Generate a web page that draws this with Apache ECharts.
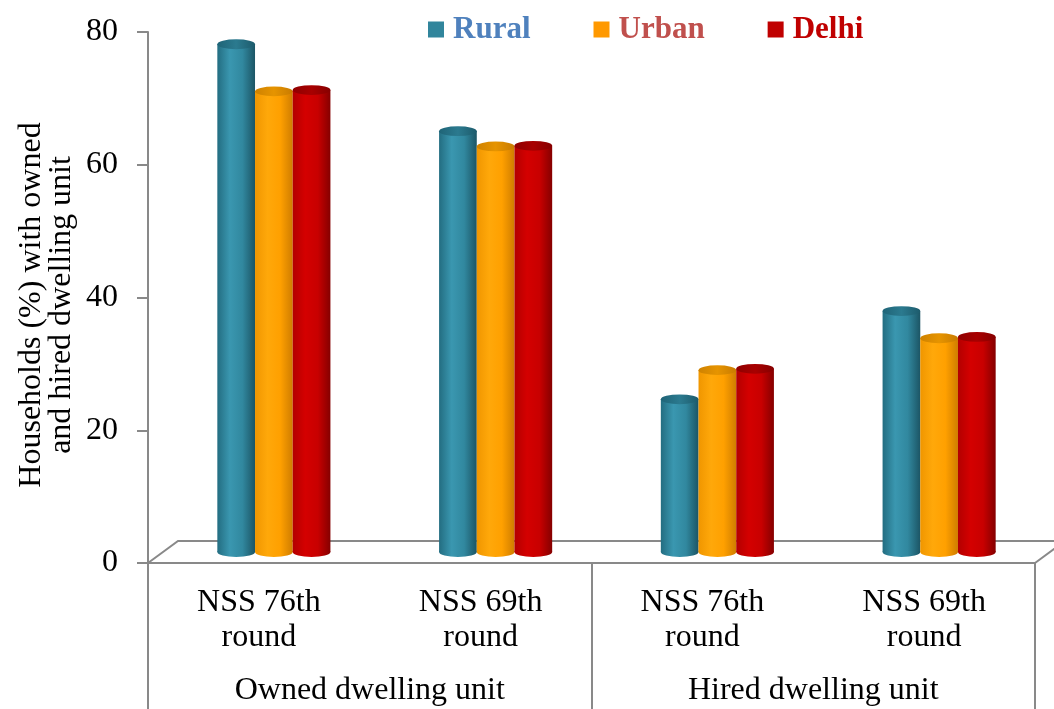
<!DOCTYPE html>
<html>
<head>
<meta charset="utf-8">
<script src="https://cdn.jsdelivr.net/npm/echarts@6/dist/echarts.min.js"></script>
<style>
  html, body { margin: 0; padding: 0; background: #fff; }
  #chart { width: 1054px; height: 709px; }
</style>
</head>
<body>
<div id="chart"></div>
<script>
// data
var roundLabels = ['NSS 76th\nround', 'NSS 69th\nround', 'NSS 76th\nround', 'NSS 69th\nround']
var groupLabels = ['Owned dwelling unit', 'Hired dwelling unit']
var rural = [76.5, 63.4, 23.0, 36.3]
var urban = [69.4, 61.1, 27.4, 32.2]
var delhi = [69.6, 61.2, 27.6, 32.4]
var yTicks = [0, 20, 40, 60, 80]

var font = "'Liberation Serif', 'Times New Roman', serif"
var axisGray = '#898989'
var depthX = 30
var depthY = 22
var barRatio = 0.17

function toPairs(arr) {
  return arr.map(function (v, i) { return [i, v] })
}

function grad(stops) {
  return new echarts.graphic.LinearGradient(0, 0, 1, 0, stops.map(function (c, i) {
    return { offset: i / (stops.length - 1), color: c }
  }))
}

// cylinder drawn at mid depth of the floor
function cylinder(slot, body, topFill) {
  return function (params, api) {
    var i = api.value(0)
    var base = api.coord([i, 0])
    var top = api.coord([i, api.value(1)])
    var w = api.size([1, 0])[0] * barRatio
    var rx = w / 2
    var ry = w * 0.13
    var cx = base[0] + slot * w + depthX / 2
    var by = base[1] - depthY / 2
    var ty = top[1] - depthY / 2
    return {
      type: 'group',
      children: [
        { type: 'circle', x: cx, y: by, scaleY: ry / rx, shape: { cx: 0, cy: 0, r: rx }, style: { fill: grad(body) } },
        { type: 'rect', shape: { x: cx - rx, y: ty, width: w, height: by - ty }, style: { fill: grad(body) } },
        { type: 'circle', x: cx, y: ty, scaleY: ry / rx, shape: { cx: 0, cy: 0, r: rx }, style: { fill: grad(topFill) } }
      ]
    }
  }
}

function floor(params, api) {
  var cs = params.coordSys
  var x0 = cs.x
  var x1 = cs.x + cs.width
  var y0 = cs.y + cs.height
  return {
    type: 'polyline',
    shape: { points: [[x0, y0], [x0 + depthX, y0 - depthY], [x1 + depthX, y0 - depthY], [x1, y0]] },
    style: { stroke: axisGray, lineWidth: 2, fill: null }
  }
}

var chart = echarts.init(document.getElementById('chart'))
var option = {
  animation: false,
  backgroundColor: '#fff',
  textStyle: { fontFamily: font },
  grid: { left: 148, right: 19, top: 32, bottom: 146, containLabel: false },
  legend: {
    left: 423,
    top: 9,
    icon: 'rect',
    itemWidth: 16,
    itemHeight: 16,
    itemGap: 63,
    textStyle: { fontSize: 31, fontWeight: 'bold', fontFamily: font, padding: [0, 0, 0, 4] },
    data: [
      { name: 'Rural', textStyle: { color: '#4F81BD' } },
      { name: 'Urban', textStyle: { color: '#C0504D' } },
      { name: 'Delhi', textStyle: { color: '#C00000' } }
    ]
  },
  graphic: [{
    type: 'text',
    x: 47,
    y: 305,
    rotation: Math.PI / 2,
    style: {
      text: 'Households (%) with owned\nand hired dwelling unit',
      font: '32px ' + font,
      lineHeight: 30,
      fill: '#000',
      align: 'center',
      verticalAlign: 'middle'
    }
  }],
  xAxis: [{
    type: 'category',
    data: roundLabels.map(function (l, i) { return 'c' + i }),
    axisLine: { show: true, lineStyle: { color: axisGray, width: 2 } },
    axisTick: { show: false },
    axisLabel: {
      interval: 0,
      margin: 22,
      fontSize: 32,
      lineHeight: 35,
      color: '#000',
      fontFamily: font,
      formatter: function (v, i) { return roundLabels[i] }
    }
  }, {
    type: 'category',
    position: 'bottom',
    data: groupLabels,
    axisLine: { show: false },
    axisTick: { show: true, length: 150, interval: 0, lineStyle: { color: axisGray, width: 2 } },
    axisLabel: { interval: 0, margin: 112, fontSize: 32, color: '#000', fontFamily: font }
  }],
  yAxis: {
    type: 'value',
    min: yTicks[0],
    max: yTicks[yTicks.length - 1],
    interval: 20,
    splitLine: { show: false },
    axisLine: { show: true, lineStyle: { color: axisGray, width: 2 } },
    axisTick: { show: true, length: 11, lineStyle: { color: axisGray, width: 2 } },
    axisLabel: { margin: 30, fontSize: 32, color: '#000', fontFamily: font }
  },
  series: [
    {
      name: 'floor',
      type: 'custom',
      silent: true,
      z: 1,
      renderItem: floor,
      data: [[0, 0]]
    },
    {
      name: 'Rural',
      type: 'custom',
      z: 2,
      itemStyle: { color: '#31859C' },
      encode: { x: 0, y: 1 },
      renderItem: cylinder(-1, ['#236d81', '#3a97b0', '#31889f', '#1c5565'], ['#1f6477', '#2b7a8f', '#1d5b6c']),
      data: toPairs(rural)
    },
    {
      name: 'Urban',
      type: 'custom',
      z: 2,
      itemStyle: { color: '#FF9900' },
      encode: { x: 0, y: 1 },
      renderItem: cylinder(0, ['#f09600', '#ffa80a', '#ffa000', '#cf7d00'], ['#cf8200', '#e69400', '#c97b00']),
      data: toPairs(urban)
    },
    {
      name: 'Delhi',
      type: 'custom',
      z: 2,
      itemStyle: { color: '#C00000' },
      encode: { x: 0, y: 1 },
      renderItem: cylinder(1, ['#b30000', '#d40000', '#c80000', '#850000'], ['#8f0000', '#a80000', '#860000']),
      data: toPairs(delhi)
    }
  ]
}
chart.setOption(option)
</script>
</body>
</html>
